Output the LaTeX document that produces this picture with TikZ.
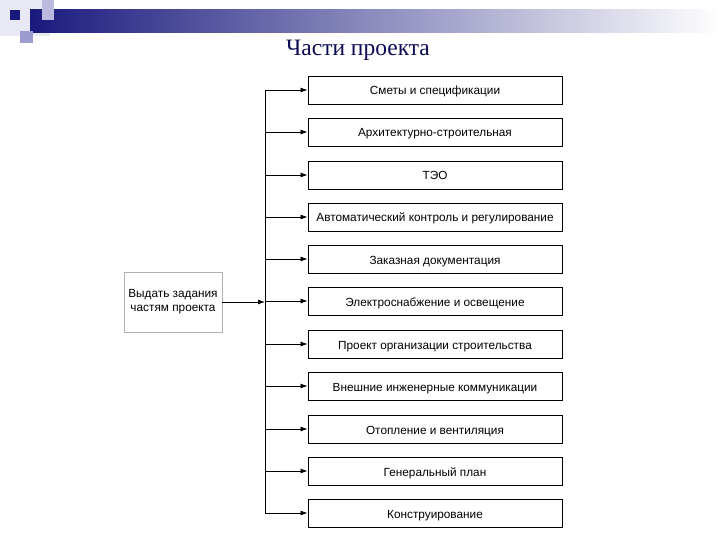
\documentclass[tikz,border=0pt]{standalone}
\usepackage{fontspec}
\setmainfont{Liberation Serif}
\setsansfont{Liberation Sans}
\usetikzlibrary{arrows.meta}

\definecolor{navy}{HTML}{1A1A7E}
\definecolor{titleblue}{HTML}{0A0A55}
\definecolor{lavender}{HTML}{9C9CD0}
\definecolor{paleblue}{HTML}{DADAEE}

\begin{document}
\begin{tikzpicture}[
  x=1pt, y=-1pt,
  part/.style={draw, line width=0.9pt, minimum width=254pt, minimum height=28pt,
    inner sep=0pt, text height=10pt, text depth=0pt,
    font=\sffamily\fontsize{11.8}{13}\selectfont},
  task/.style={draw=gray!60, line width=0.6pt, minimum width=98pt, minimum height=60pt,
    align=center, inner sep=0pt, font=\sffamily\fontsize{11.8}{14}\selectfont},
  link/.style={-{Latex[length=7pt,width=5pt]}, line width=0.8pt}
]
  \useasboundingbox (0,0) rectangle (720,540);

  % Decoration
  \fill[paleblue!60] (0,0) rectangle (50,36);
  \shade[left color=navy, right color=white] (30,10) rectangle (720,33);
  \fill[lavender!70] (42,0) rectangle (54,20);
  \fill[lavender] (20,31) rectangle (33,43);
  \fill[navy] (10,10) rectangle (20,20);

  % Title
  \node[text=titleblue, font=\fontsize{23.5}{28}\selectfont] (title) at (358,50) {Части проекта};

  % Nodes
  \node[task] (task) at (173,302) {Выдать задания\\частям проекта};

  \node[part] (p1) at (435,90) {Сметы и спецификации};
  \node[part] (p2) at (435,132) {Архитектурно-строительная};
  \node[part] (p3) at (435,175) {ТЭО};
  \node[part] (p4) at (435,217) {Автоматический контроль и регулирование};
  \node[part] (p5) at (435,259) {Заказная документация};
  \node[part] (p6) at (435,301) {Электроснабжение и освещение};
  \node[part] (p7) at (435,344) {Проект организации строительства};
  \node[part] (p8) at (435,386) {Внешние инженерные коммуникации};
  \node[part] (p9) at (435,429) {Отопление и вентиляция};
  \node[part] (p10) at (435,471) {Генеральный план};
  \node[part] (p11) at (435,513) {Конструирование};

  \coordinate (bus) at (265,0);

  % Edges
  \draw[link] (task.east) -- (bus |- task);
  \draw[line width=0.9pt] (bus |- p1) -- (bus |- p11);

  \draw[link] (bus |- p1) -- (p1.west);
  \draw[link] (bus |- p2) -- (p2.west);
  \draw[link] (bus |- p3) -- (p3.west);
  \draw[link] (bus |- p4) -- (p4.west);
  \draw[link] (bus |- p5) -- (p5.west);
  \draw[link] (bus |- p6) -- (p6.west);
  \draw[link] (bus |- p7) -- (p7.west);
  \draw[link] (bus |- p8) -- (p8.west);
  \draw[link] (bus |- p9) -- (p9.west);
  \draw[link] (bus |- p10) -- (p10.west);
  \draw[link] (bus |- p11) -- (p11.west);
\end{tikzpicture}
\end{document}
